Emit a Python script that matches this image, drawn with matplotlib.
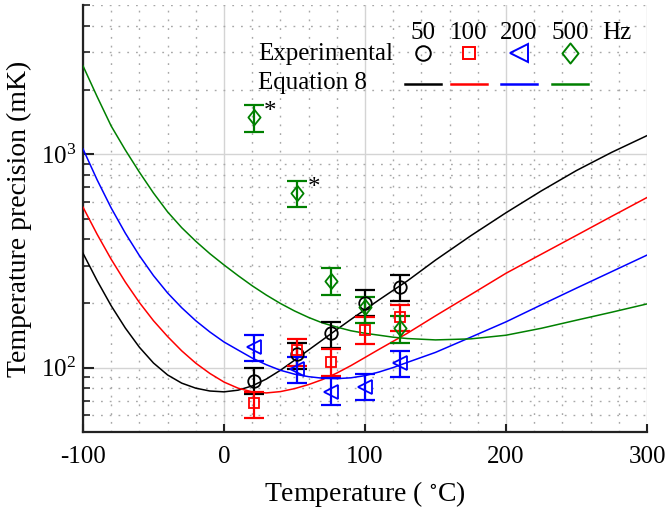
import numpy as np
import matplotlib
matplotlib.use("Agg")
import matplotlib.pyplot as plt
from matplotlib.lines import Line2D
from matplotlib.path import Path
from matplotlib.ticker import FixedLocator, LogLocator, NullFormatter, MultipleLocator

plt.rcParams['font.family'] = ['Liberation Serif', 'DejaVu Serif']
plt.rcParams['mathtext.fontset'] = 'stix'
plt.rcParams['axes.unicode_minus'] = False

# ---------------- data ----------------
FREQS = ["50", "100", "200", "500"]
T_EXP = [21, 52, 76, 100, 125]

Y_50 = [86.6, 116, 145, 202, 240]
LO_50 = [75.1, 98.3, 124, 175, 206]
HI_50 = [99.4, 131, 164, 231, 272]

Y_100 = [68.1, 121, 106.7, 151, 172]
LO_100 = [58.3, 102, 91.5, 129, 149]
HI_100 = [77.2, 136.7, 122, 172, 197]

Y_200 = [125.4, 98.3, 77.2, 81.5, 105]
LO_200 = [108, 85, 66.8, 70.6, 90.7]
HI_200 = [142, 112.6, 89.2, 93.4, 120]

Y_500 = [1500, 661, 255, 193, 153]
LO_500 = [1276, 568, 219, 162.5, 131]
HI_500 = [1702, 750, 294, 214, 175]

CURVE_T = [-100, -90, -80, -70, -60, -50, -40, -30, -20, -10, 0, 10, 20, 30, 40,
           50, 60, 70, 80, 90, 100, 110, 120, 130, 150, 175, 200, 225, 250, 275, 300]
EQ_50 = [343.6, 255.9, 195.0, 153.5, 124.7, 105.2, 92.5, 84.7, 80.2, 77.8, 77.1, 78.5,
         82.2, 88.5, 97.3, 108.4, 121.1, 135.2, 151.0, 168.3, 187.1, 208.0, 230.5,
         255.0, 319.2, 415, 532, 673, 839, 1021, 1222]
EQ_100 = [565, 422, 322, 252, 202, 166, 140, 120, 105, 94.0, 85.7, 80.2, 77.1, 76.2,
          77.3, 79.8, 83.4, 88.1, 94.4, 102.3, 111.7, 122.0, 133.0, 145.0, 175, 220,
          277, 340, 417, 512, 627]
EQ_200 = [1059, 759, 560, 427, 335, 270, 224, 191, 166, 147, 132, 121, 111, 103.3,
          97.3, 93.3, 90.8, 89.3, 88.9, 89.7, 91.8, 95.5, 100.2, 105.9, 118, 139, 164,
          197, 236, 282, 337]
EQ_500 = [2594, 1862, 1355, 1047, 824, 658, 537, 453, 391, 342, 303, 270, 242, 219,
          200, 184.5, 172, 162, 155, 149, 145, 142, 139, 137, 135, 136.5, 142, 153,
          167, 182, 199]

STAR_IDX = [0, 1]  # green points marked with *

# ---------------- figure ----------------
W, H = 667, 515
fig = plt.figure(figsize=(W / 100, H / 100), dpi=100)
ax = fig.add_axes([83 / W, (H - 432) / H, 564 / W, 427 / H])
ax.set_yscale('log')
ax.set_xlim(-100, 300)
ax.set_ylim(50, 5000)

colors = ['black', '#ff0000', '#0000ff', '#008000']

# diamond marker (MATLAB-like, slightly taller than wide)
diamond = Path([(0, 1), (0.8, 0), (0, -1), (-0.8, 0), (0, 1)],
               [Path.MOVETO, Path.LINETO, Path.LINETO, Path.LINETO, Path.CLOSEPOLY])

markers = ['o', 's', '<', diamond]
msizes = [9, 7.5, 10, 11]

curves = [EQ_50, EQ_100, EQ_200, EQ_500]
exps = [(Y_50, LO_50, HI_50), (Y_100, LO_100, HI_100),
        (Y_200, LO_200, HI_200), (Y_500, LO_500, HI_500)]

for c, eq in zip(colors, curves):
    ax.plot(CURVE_T, eq, color=c, lw=1.1, zorder=3, solid_joinstyle='round')

for c, (y, lo, hi), m, ms in zip(colors, exps, markers, msizes):
    y = np.array(y); lo = np.array(lo); hi = np.array(hi)
    ax.errorbar(T_EXP, y, yerr=[y - lo, hi - y], fmt='none', ecolor=c,
                elinewidth=1.6, capsize=7, capthick=1.6, zorder=4)
    ax.plot(T_EXP, y, linestyle='none', marker=m, ms=ms, mfc='none', mec=c,
            mew=1.3, zorder=5)

for i in STAR_IDX:
    ax.annotate('*', xy=(T_EXP[i], Y_500[i]), xytext=(12, 3),
                textcoords='offset points', ha='center', va='center',
                fontsize=18, color='black', zorder=6)

# grid
ax.xaxis.set_major_locator(FixedLocator([-100, 0, 100, 200, 300]))
ax.xaxis.set_minor_locator(MultipleLocator(20))
ax.yaxis.set_major_locator(LogLocator(base=10, numticks=10))
ax.yaxis.set_minor_locator(LogLocator(base=10, subs=np.arange(2, 10), numticks=20))
ax.yaxis.set_minor_formatter(NullFormatter())
ax.grid(True, which='major', color='#d4d4d4', lw=1.0, ls='-', zorder=0)
ax.grid(True, which='minor', color='#a8a8a8', lw=1.0, ls=(0, (1.3, 5)), zorder=0)
ax.set_axisbelow(True)

for s in ['top', 'right']:
    ax.spines[s].set_visible(False)
for s in ['left', 'bottom']:
    ax.spines[s].set_linewidth(1.6)
    ax.spines[s].set_color('#222222')

ax.tick_params(axis='both', which='major', direction='in', labelsize=18,
               width=1.5, color='#222222')
ax.tick_params(axis='y', which='major', length=8, pad=5)
ax.tick_params(axis='y', which='minor', direction='in', length=5, width=1.2, color='#222222')
ax.tick_params(axis='x', which='major', length=6, pad=10)
ax.tick_params(axis='x', which='minor', length=0)

ax.set_xlabel('Temperature ( $^{\\circ}$C)', fontsize=20, labelpad=8)
ax.set_ylabel('Temperature precision (mK)', fontsize=20, labelpad=6)

# ---------------- custom legend ----------------
def fx(px):
    return px / W

def fy(py):
    return 1 - py / H

num_x = [423, 469, 519, 570]
for t, x in zip(FREQS, num_x):
    fig.text(fx(x), fy(39), t, ha='center', va='baseline', fontsize=18)
fig.text(fx(617), fy(39), 'Hz', ha='center', va='baseline', fontsize=18)
fig.text(fx(258), fy(60), 'Experimental', ha='left', va='baseline', fontsize=18)
fig.text(fx(258), fy(89), 'Equation 8', ha='left', va='baseline', fontsize=18)

leg_ms = [10.5, 8.5, 12.5, 14.5]
for x, c, m, ms in zip(num_x, colors, markers, leg_ms):
    fig.add_artist(Line2D([fx(x)], [fy(53)], transform=fig.transFigure,
                          marker=m, ms=ms, mfc='none', mec=c, mew=1.4,
                          linestyle='none'))
    fig.add_artist(Line2D([fx(x - 18), fx(x + 18)], [fy(83.5), fy(83.5)],
                          transform=fig.transFigure, color=c, lw=1.8))

fig.savefig('out.png', dpi=100)
